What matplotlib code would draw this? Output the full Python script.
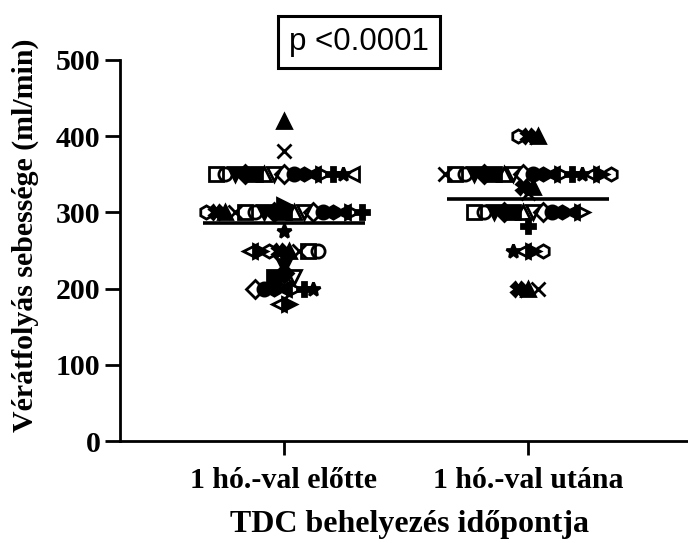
import matplotlib
matplotlib.use("Agg")
import matplotlib.pyplot as plt
import numpy as np
from collections import OrderedDict

# ---- data ----
categories = ["1 hó.-val előtte", "1 hó.-val utána"]
before = ([420, 380] + [350] * 15 + [310] + [300] * 17 + [275] + [250] * 8
          + [230] + [220] + [215] * 3 + [200] * 7 + [180] * 2)
after = ([400] * 3 + [350] * 18 + [333] * 2 + [326] + [300] * 12 + [282]
         + [250] * 4 + [200] * 3)
groups = [before, after]
yticks = [0, 100, 200, 300, 400, 500]
ylabel = "Vérátfolyás sebessége (ml/min)"
xlabel = "TDC behelyezés időpontja"
ptext = "p <0.0001"

# ---- marker styles (Prism-like symbol set) ----
styles = [
    ("^", "black"), ("x", "black"), ("s", "none"), ("o", "none"), ("v", "black"),
    ("D", "black"), ("s", "black"), ("^", "none"), ("v", "none"), ("D", "none"),
    ("o", "black"), ("h", "black"), ("<", "black"), (">", "none"), ("P", "black"),
    ("*", "black"), ("<", "none"), (">", "black"), ("h", "none"), ("X", "black"),
]

fig = plt.figure(figsize=(6.88, 5.43), dpi=100)
ax = fig.add_axes([120 / 688, (543 - 441) / 543, 568 / 688, 381 / 543])

spacing = 0.040
k = 0
for gi, vals in enumerate(groups):
    rows = OrderedDict()
    for v in vals:
        rows.setdefault(v, 0)
        rows[v] += 1
    for v, n in rows.items():
        offs = (np.arange(n) - (n - 1) / 2) * spacing
        for o in offs:
            m, fc = styles[k % len(styles)]
            k += 1
            ax.plot(gi + o, v, marker=m, markersize=9.5 if m not in ("*", "x") else 10,
                    markerfacecolor=fc, markeredgecolor="black", markeredgewidth=2.0,
                    linestyle="none", zorder=3)
    mean = np.mean(vals)
    ax.plot([gi - 0.33, gi + 0.33], [mean, mean], color="black", lw=2.6, zorder=4,
            solid_capstyle="butt")

ax.set_xlim(-164 / 244, -164 / 244 + 568 / 244)
ax.set_ylim(0, 500)
ax.set_yticks(yticks)
ax.set_xticks([0, 1])
ax.set_xticklabels(categories)

for s in ["top", "right"]:
    ax.spines[s].set_visible(False)
for s in ["left", "bottom"]:
    ax.spines[s].set_linewidth(2.0)

serif = "Liberation Serif"
ax.tick_params(axis="y", length=11, width=2.0, pad=3)
ax.tick_params(axis="x", length=10, width=2.0, pad=9)
for lab in ax.get_yticklabels() + ax.get_xticklabels():
    lab.set_fontfamily(serif)
    lab.set_fontweight("bold")
    lab.set_fontsize(21.5)

ax.set_ylabel(ylabel, fontfamily=serif, fontweight="bold", fontsize=21.5)
ax.yaxis.set_label_coords(-0.142, 0.54)
ax.set_xlabel(xlabel, fontfamily=serif, fontweight="bold", fontsize=23)
ax.xaxis.set_label_coords(0.51, -0.18)

fig.text(359 / 688, 1 - 42 / 543, ptext, fontfamily="Liberation Sans", fontsize=22.5,
         ha="center", va="center",
         bbox=dict(boxstyle="square,pad=0.34", facecolor="white", edgecolor="black", linewidth=2.2))

fig.savefig("out.png", dpi=100)
